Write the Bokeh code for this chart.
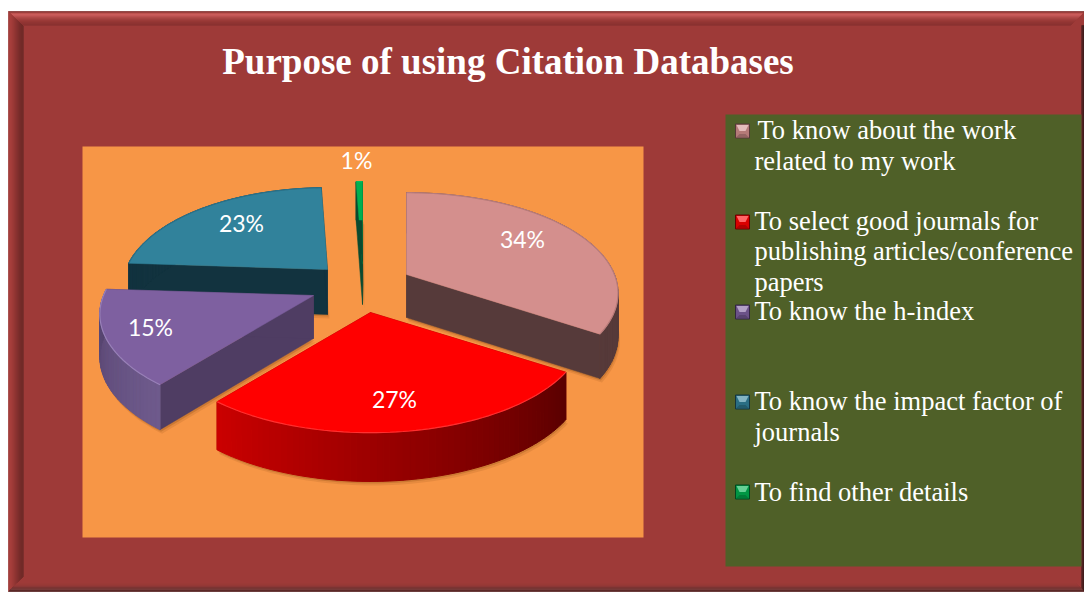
import math
from bokeh.plotting import figure
from bokeh.models import Range1d
from bokeh.core.properties import value
from bokeh.embed import file_html
from bokeh.resources import INLINE

# ---- data
title_text = "Purpose of using Citation Databases"
shares = [34, 27, 15, 23.4, 0.6]
share_labels = ["34%", "27%", "15%", "23%", "1%"]
top_colors = ["#d48f8d", "#ff0000", "#7e60a0", "#31829b", "#00b050"]
legend_entries = [
    ["To know about the work", "related to my work"],
    ["To select good journals for", "publishing articles/conference", "papers"],
    ["To know the h-index"],
    ["To know the impact factor of", "journals"],
    ["To find other details"],
]

# ---- styling and layout (reference-pixel coordinates)
RED = "#9e3a38"; ORANGE = "#f79646"; OLIVE = "#4f6028"
radial_wall = ["#563a3a", "#8a0000", "#4f3d63", "#12333f", "#0b4a30"]
arc_from = ["#563a3a", "#cc0000", "#6e5a8c", "#12333f", "#0b4a30"]
arc_to = ["#563a3a", "#5a0000", "#55436e", "#12333f", "#0b4a30"]
edge = ["#b87c7a", "#ff3030", "#9880b8", "#2a7088", "#00c060"]
apex = [(406, 274), (370, 312), (313, 295), (327, 269), (362, 263)]
x_scale = [0.99, 1.0, 1.0, 0.96, 1.0]
depths = [43, 46, 43, 45, 41]
label_at = [(522, 238), (394, 398), (150, 326), (241, 222), (356, 159)]
draw_order = [3, 4, 0, 2, 1]
A, B, K = 210, 101, 0.19
legend_marker_y = [130, 221, 311, 401, 491]
legend_baseline = [[129, 160], [220, 250, 281], [310], [400, 431], [491]]


def hex2rgb(c):
    return [int(c[i:i + 2], 16) for i in (1, 3, 5)]


def mix(c1, c2, t):
    a, b = hex2rgb(c1), hex2rgb(c2)
    return "#%02x%02x%02x" % tuple(round(a[i] + (b[i] - a[i]) * t) for i in range(3))


def rim(th, ax, ay, sx=1.0, depth=0.0):
    r = math.radians(th)
    s = 1 - K * math.cos(r)
    return (ax + A * sx * math.sin(r) * s,
            ay - B * math.cos(r) * s + depth * (1 - 0.06 * math.cos(r)))


p = figure(width=1084, height=592, output_backend="svg", toolbar_location=None,
           x_range=Range1d(0, 1084), y_range=Range1d(592, 0),
           min_border=0, outline_line_color=None, background_fill_color="white",
           border_fill_color="white")
p.axis.visible = False
p.grid.visible = False

# ---- frame
L, T, R_, B_ = 8, 11, 1084, 591
xs, ys, cs = [], [], []
xs.append([L, R_, R_, L]); ys.append([T, T, B_, B_]); cs.append(RED)
top_shades = ["#7c2e2c", "#a84644", "#cc5c5a", "#d46462", "#c85a58", "#bc5250", "#b04a48",
              "#a84442", "#a03e3c", "#9a3a38", "#943634", "#8e3432", "#8a3230", "#873130"]
left_shades = ["#a03c3a", "#a83f3d", "#a83f3d", "#a43d3b", "#9e3a38", "#983836", "#903533",
               "#8a3230", "#843030", "#7e2e2c", "#782c2a", "#722a28", "#6e2a28", "#6a2826", "#6a2826"]
bottom_shades = ["#401c1c", "#5a2a28", "#7a4240", "#6e3230", "#7c3432", "#8e3a38", "#943836", "#9a3a38"]
right_shades = ["#2a1414", "#3a1a1a", "#4a2020"]
for i, c in enumerate(top_shades):
    xs.append([L + i, R_ - i, R_ - i - 1, L + i + 1]); ys.append([T + i, T + i, T + i + 1, T + i + 1]); cs.append(c)
for i, c in enumerate(left_shades):
    xs.append([L + i, L + i + 1, L + i + 1, L + i]); ys.append([T + i, T + i + 1, B_ - i - 1, B_ - i]); cs.append(c)
for i, c in enumerate(right_shades):
    xs.append([R_ - i, R_ - i - 1, R_ - i - 1, R_ - i]); ys.append([T + 14, T + 14, B_ - i - 1, B_ - i]); cs.append(c)
for i, c in enumerate(bottom_shades):
    xs.append([L + i, R_ - i, R_ - i - 1, L + i + 1]); ys.append([B_ - i, B_ - i, B_ - i - 1, B_ - i - 1]); cs.append(c)
p.patches(xs, ys, fill_color=cs, line_color=cs, line_width=0.3)

# ---- panels
p.quad(left=82, right=643, top=146, bottom=537, fill_color=ORANGE, line_color=None)
p.quad(left=725, right=1081, top=114, bottom=566, fill_color=OLIVE, line_color=None)

# ---- pie
starts, run = [], 0
for v in shares:
    starts.append(run); run += v
total = float(sum(shares))

for i in draw_order:
    t0 = starts[i] / total * 360
    t1 = (starts[i] + shares[i]) / total * 360
    ax, ay = apex[i]
    d = depths[i]
    n = max(3, int((t1 - t0) / 1.5))
    ths = [t0 + (t1 - t0) * j / n for j in range(n + 1)]
    top = [rim(t, ax, ay, x_scale[i]) for t in ths]
    bot = [rim(t, ax, ay, x_scale[i], d) for t in ths]
    # soft shadow below the body
    for off, alpha in ((4, 0.10), (2, 0.18)):
        sx = [q[0] + off * 0.5 for q in bot] + [ax + off * 0.5]
        sy = [q[1] + off for q in bot] + [ay + d + off]
        p.patch(sx, sy, fill_color="#5a2a00", fill_alpha=alpha, line_color=None)
    # radial walls
    for q_top, q_bot in ((top[0], bot[0]), (top[-1], bot[-1])):
        p.patch([ax, q_top[0], q_bot[0], ax], [ay, q_top[1], q_bot[1], ay + d],
                fill_color=radial_wall[i], line_color=radial_wall[i], line_width=0.5)
    # rim wall with a gradient across the arc
    qx, qy, qc = [], [], []
    for j in range(n):
        qx.append([top[j][0], top[j + 1][0], bot[j + 1][0], bot[j][0]])
        qy.append([top[j][1], top[j + 1][1], bot[j + 1][1], bot[j][1]])
        f = j / n
        qc.append(mix(arc_to[i], arc_from[i], f) if i == 1 else mix(arc_from[i], arc_to[i], f))
    p.patches(qx, qy, fill_color=qc, line_color=qc, line_width=1.0)
    # top face
    p.patch([ax] + [q[0] for q in top], [ay] + [q[1] for q in top],
            fill_color=top_colors[i], line_color=top_colors[i], line_width=0.5)
    p.line([q[0] for q in top], [q[1] for q in top], line_color=edge[i], line_width=1.2)
    if i == 4:  # the sliver's front wall hides the lower part of its face
        p.patch([bot[0][0], bot[-1][0], ax + 1, ax], [bot[0][1], bot[-1][1], ay + d, ay],
                fill_color=radial_wall[i], line_color=None)

# ---- percentage labels
p.text(x=[q[0] for q in label_at], y=[q[1] for q in label_at], text=share_labels,
       text_color="white", text_font=value("Lato"), text_font_size="23px",
       text_align="center", text_baseline="middle")

# ---- title
p.text(x=[507.5], y=[60.5], text=[title_text], text_color="white",
       text_font=value("Liberation Serif"), text_font_style="bold", text_font_size="37px",
       text_align="center", text_baseline="alphabetic")

# ---- legend
for i, lines in enumerate(legend_entries):
    my = legend_marker_y[i] + 0.5
    c = top_colors[i]
    x0, x1 = 735, 749
    y0, y1 = my - 7, my + 7
    p.quad(left=x0, right=x1, top=y0, bottom=y1, fill_color=mix(c, "#000000", 0.15),
           line_color=mix(c, "#000000", 0.6), line_width=1)
    p.patch([x0 + 1, x1 - 1, x1 - 4, x0 + 4], [y0 + 1, y0 + 1, my, my],
            fill_color=mix(c, "#ffffff", 0.4), line_color=None)
    p.patch([x0 + 1, x1 - 1, x1 - 4, x0 + 4], [y1 - 1, y1 - 1, y1 - 4, y1 - 4],
            fill_color=mix(c, "#000000", 0.3), line_color=None)
    for k, line in enumerate(lines):
        lx = 757 if (i == 0 and k == 0) else 754
        p.text(x=[lx], y=[legend_baseline[i][k]], text=[line], text_color="white",
               text_font=value("Liberation Serif"), text_font_size="26.5px",
               text_align="left", text_baseline="alphabetic")

open("out.html", "w").write(file_html(p, INLINE))
